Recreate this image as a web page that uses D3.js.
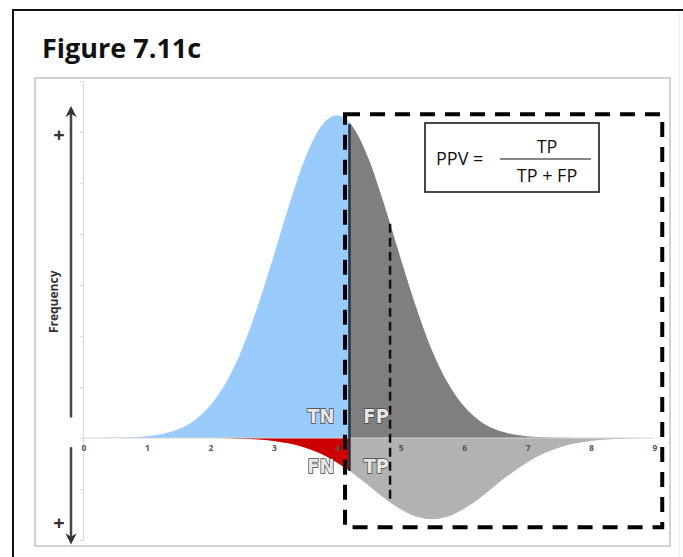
<!DOCTYPE html>
<html>
<head>
<meta charset="utf-8">
<script src="https://cdn.jsdelivr.net/npm/d3@7"></script>
<style>
  body { margin: 0; background: #fff; overflow: hidden; }
  svg { display: block; }
</style>
</head>
<body>
<div id="chart"></div>
<script>
// Figure 7.11c - PPV, two distributions split by a cut-off

// x positions of the samples (test value)
const xs = [0, 0.25, 0.5, 0.75, 1, 1.25, 1.5, 1.75, 2, 2.25, 2.5, 2.75, 3, 3.25, 3.5, 3.75,
  4, 4.25, 4.5, 4.75, 5, 5.25, 5.5, 5.75, 6, 6.25, 6.5, 6.75, 7, 7.25, 7.5, 7.75, 8, 8.25, 8.5, 8.75, 9];

// healthy population, drawn above the axis
const healthy = [0, 0.002, 0.005, 0.014, 0.035, 0.08, 0.17, 0.34, 0.63, 1.08, 1.72, 2.57, 3.55, 4.57, 5.48, 6.11,
  6.33, 6.11, 5.48, 4.57, 3.55, 2.57, 1.72, 1.08, 0.63, 0.34, 0.17, 0.08, 0.035, 0.014, 0.005, 0.002, 0, 0, 0, 0, 0];

// diseased population, drawn below the axis
const diseased = [0, 0, 0, 0, 0, 0, 0, 0.001, 0.002, 0.006, 0.013, 0.029, 0.057, 0.108, 0.19, 0.31,
  0.48, 0.69, 0.93, 1.18, 1.39, 1.54, 1.59, 1.54, 1.39, 1.18, 0.93, 0.69, 0.48, 0.31, 0.19, 0.108, 0.057, 0.029, 0.013, 0.006, 0.002];

const xTicks = [0, 1, 2, 3, 4, 5, 6, 7, 8, 9];
const yTicks = [-2, -1, 0, 1, 2, 3, 4, 5, 6, 7];

const cutoff = 4.2;       // threshold (solid line)
const cutoff2 = 4.84;     // second cut-off (thin dashed line)
const box = {x0: 4.13, x1: 9.13, y0: -1.75, y1: 6.35}; // positive-test box

const quadrants = [
  {label: "TN", x: 3.75, y: 0.29},
  {label: "FP", x: 4.62, y: 0.29},
  {label: "FN", x: 3.75, y: -0.69},
  {label: "TP", x: 4.62, y: -0.69}
];

const width = 683, height = 557;

const svg = d3.select("#chart").append("svg")
  .attr("width", width)
  .attr("height", height);

// outer frame (only left and top edges are inside the picture)
svg.append("line")
  .attr("x1", 679.5).attr("x2", 679.5).attr("y1", 12).attr("y2", height)
  .attr("stroke", "#ececec").attr("stroke-width", 1);
svg.append("path")
  .attr("d", `M13,${height} V10 H${width}`)
  .attr("fill", "none")
  .attr("stroke", "#111")
  .attr("stroke-width", 2);

svg.append("text")
  .attr("x", 42).attr("y", 58)
  .attr("font-family", "'Open Sans', sans-serif")
  .attr("font-weight", "bold")
  .attr("font-size", 27)
  .attr("fill", "#111")
  .text("Figure 7.11c");

// inner chart panel
svg.append("rect")
  .attr("x", 35).attr("y", 78)
  .attr("width", 635).attr("height", 468)
  .attr("fill", "#fff")
  .attr("stroke", "#c4c4c4")
  .attr("stroke-width", 1.5);

const x = d3.scaleLinear().domain([0, 9]).range([83, 654]);
const y = d3.scaleLinear().domain([-2, 7]).range([540, 81]);

const pts = xs.map((v, i) => ({x: v, up: healthy[i], down: -diseased[i]}));

const areaUp = d3.area()
  .x(d => x(d.x)).y0(y(0)).y1(d => y(d.up))
  .curve(d3.curveMonotoneX);
const areaDown = d3.area()
  .x(d => x(d.x)).y0(y(0)).y1(d => y(d.down))
  .curve(d3.curveMonotoneX);

const defs = svg.append("defs");
defs.append("clipPath").attr("id", "left")
  .append("rect")
  .attr("x", 0).attr("y", 0)
  .attr("width", x(cutoff)).attr("height", height);
defs.append("clipPath").attr("id", "right")
  .append("rect")
  .attr("x", x(cutoff)).attr("y", 0)
  .attr("width", width).attr("height", height);

const plot = svg.append("g");

plot.append("path").datum(pts).attr("d", areaUp)
  .attr("fill", "#99cbfd").attr("clip-path", "url(#left)");
plot.append("path").datum(pts).attr("d", areaUp)
  .attr("fill", "#7f7f7f").attr("clip-path", "url(#right)");
plot.append("path").datum(pts).attr("d", areaDown)
  .attr("fill", "#cc0000").attr("clip-path", "url(#left)");
plot.append("path").datum(pts).attr("d", areaDown)
  .attr("fill", "#b2b2b2").attr("clip-path", "url(#right)");

// axes (light gray, no tick labels on y)
const yAxis = plot.append("g")
  .attr("transform", `translate(${x(0)},0)`)
  .call(d3.axisLeft(y).tickValues(yTicks).tickSize(3).tickFormat(""));
yAxis.selectAll("line, path").attr("stroke", "#d9d9d9");

plot.append("line")
  .attr("x1", x(0)).attr("x2", x(9))
  .attr("y1", y(0)).attr("y2", y(0))
  .attr("stroke", "#d6d6d6").attr("stroke-width", 1.2);

plot.selectAll(".xl")
  .data(xTicks)
  .join("text")
    .attr("class", "xl")
    .attr("x", d => x(d) + 1)
    .attr("y", y(0) + 13)
    .attr("text-anchor", "middle")
    .attr("font-family", "'Open Sans', sans-serif")
    .attr("font-weight", "bold")
    .attr("font-size", 8.5)
    .attr("fill", "#555")
    .text(d => d);

// interpolate curve heights at the cut-offs for the vertical lines
const hAt = (arr, v) => {
  const i = d3.bisectRight(xs, v) - 1;
  const t = (v - xs[i]) / (xs[i + 1] - xs[i]);
  return arr[i] + t * (arr[i + 1] - arr[i]);
};

// thin dashed cut-off line
plot.append("line")
  .attr("x1", x(cutoff2)).attr("x2", x(cutoff2))
  .attr("y1", y(hAt(healthy, cutoff2))).attr("y2", y(-hAt(diseased, cutoff2)))
  .attr("stroke", "#111").attr("stroke-width", 2.5)
  .attr("stroke-dasharray", "9,5");

// solid threshold line
plot.append("line")
  .attr("x1", x(cutoff)).attr("x2", x(cutoff))
  .attr("y1", y(hAt(healthy, cutoff))).attr("y2", y(-hAt(diseased, cutoff)))
  .attr("stroke", "#26313f").attr("stroke-width", 2.5);

// outlined quadrant labels
plot.selectAll(".ql")
  .data(quadrants)
  .join("text")
    .attr("class", "ql")
    .attr("x", d => x(d.x))
    .attr("y", d => y(d.y))
    .attr("text-anchor", "middle")
    .attr("font-family", "'Liberation Sans Narrow', 'DejaVu Sans Condensed', sans-serif")
    .attr("font-weight", "bold")
    .attr("font-size", 20)
    .attr("fill", "#e6e6e6")
    .attr("stroke", "#444")
    .attr("stroke-width", 1.4)
    .attr("paint-order", "stroke")
    .text(d => d.label);

// dashed box around the positive tests
plot.append("rect")
  .attr("x", x(box.x0)).attr("y", y(box.y1))
  .attr("width", x(box.x1) - x(box.x0))
  .attr("height", y(box.y0) - y(box.y1))
  .attr("fill", "none")
  .attr("stroke", "#000")
  .attr("stroke-width", 4)
  .attr("stroke-dasharray", "15,10");

// formula box
const fx = 425, fy = 123;
const formula = svg.append("g").attr("font-family", "'Open Sans', sans-serif")
  .attr("font-size", 18).attr("fill", "#111");
formula.append("rect")
  .attr("x", fx).attr("y", fy).attr("width", 174).attr("height", 69)
  .attr("fill", "#fff").attr("stroke", "#333").attr("stroke-width", 1.8);
formula.append("text").attr("x", fx + 11).attr("y", fy + 42).text("PPV =");
formula.append("line")
  .attr("x1", fx + 75).attr("x2", fx + 166)
  .attr("y1", fy + 36).attr("y2", fy + 36)
  .attr("stroke", "#111").attr("stroke-width", 1);
formula.append("text").attr("x", fx + 122).attr("y", fy + 30)
  .attr("text-anchor", "middle").text("TP");
formula.append("text").attr("x", fx + 122).attr("y", fy + 59)
  .attr("text-anchor", "middle").text("TP + FP");

// Frequency arrows on the left
const arrowX = 71;
defs.append("marker")
  .attr("id", "head")
  .attr("viewBox", "0 0 10 10")
  .attr("refX", 5).attr("refY", 5)
  .attr("markerWidth", 4.5).attr("markerHeight", 4.5)
  .attr("orient", "auto-start-reverse")
  .append("path")
  .attr("d", "M0,0 L10,5 L0,10 L3,5 Z")
  .attr("fill", "#333");

svg.append("line")
  .attr("x1", arrowX).attr("x2", arrowX)
  .attr("y1", y(0.4)).attr("y2", y(6.4))
  .attr("stroke", "#444").attr("stroke-width", 2.5)
  .attr("marker-end", "url(#head)");
svg.append("line")
  .attr("x1", arrowX).attr("x2", arrowX)
  .attr("y1", y(-0.18)).attr("y2", y(-1.98))
  .attr("stroke", "#444").attr("stroke-width", 2.5)
  .attr("marker-end", "url(#head)");

svg.selectAll(".plus")
  .data([5.95, -1.66])
  .join("text")
    .attr("class", "plus")
    .attr("x", 59).attr("y", d => y(d) + 7)
    .attr("text-anchor", "middle")
    .attr("font-family", "'Open Sans', sans-serif")
    .attr("font-weight", "bold")
    .attr("font-size", 20)
    .attr("fill", "#333")
    .text("+");

svg.append("text")
  .attr("transform", `translate(58,${y(2.67)}) rotate(-90)`)
  .attr("text-anchor", "middle")
  .attr("font-family", "'Open Sans', sans-serif")
  .attr("font-weight", "bold")
  .attr("font-size", 12)
  .attr("fill", "#333")
  .text("Frequency");
</script>
</body>
</html>
